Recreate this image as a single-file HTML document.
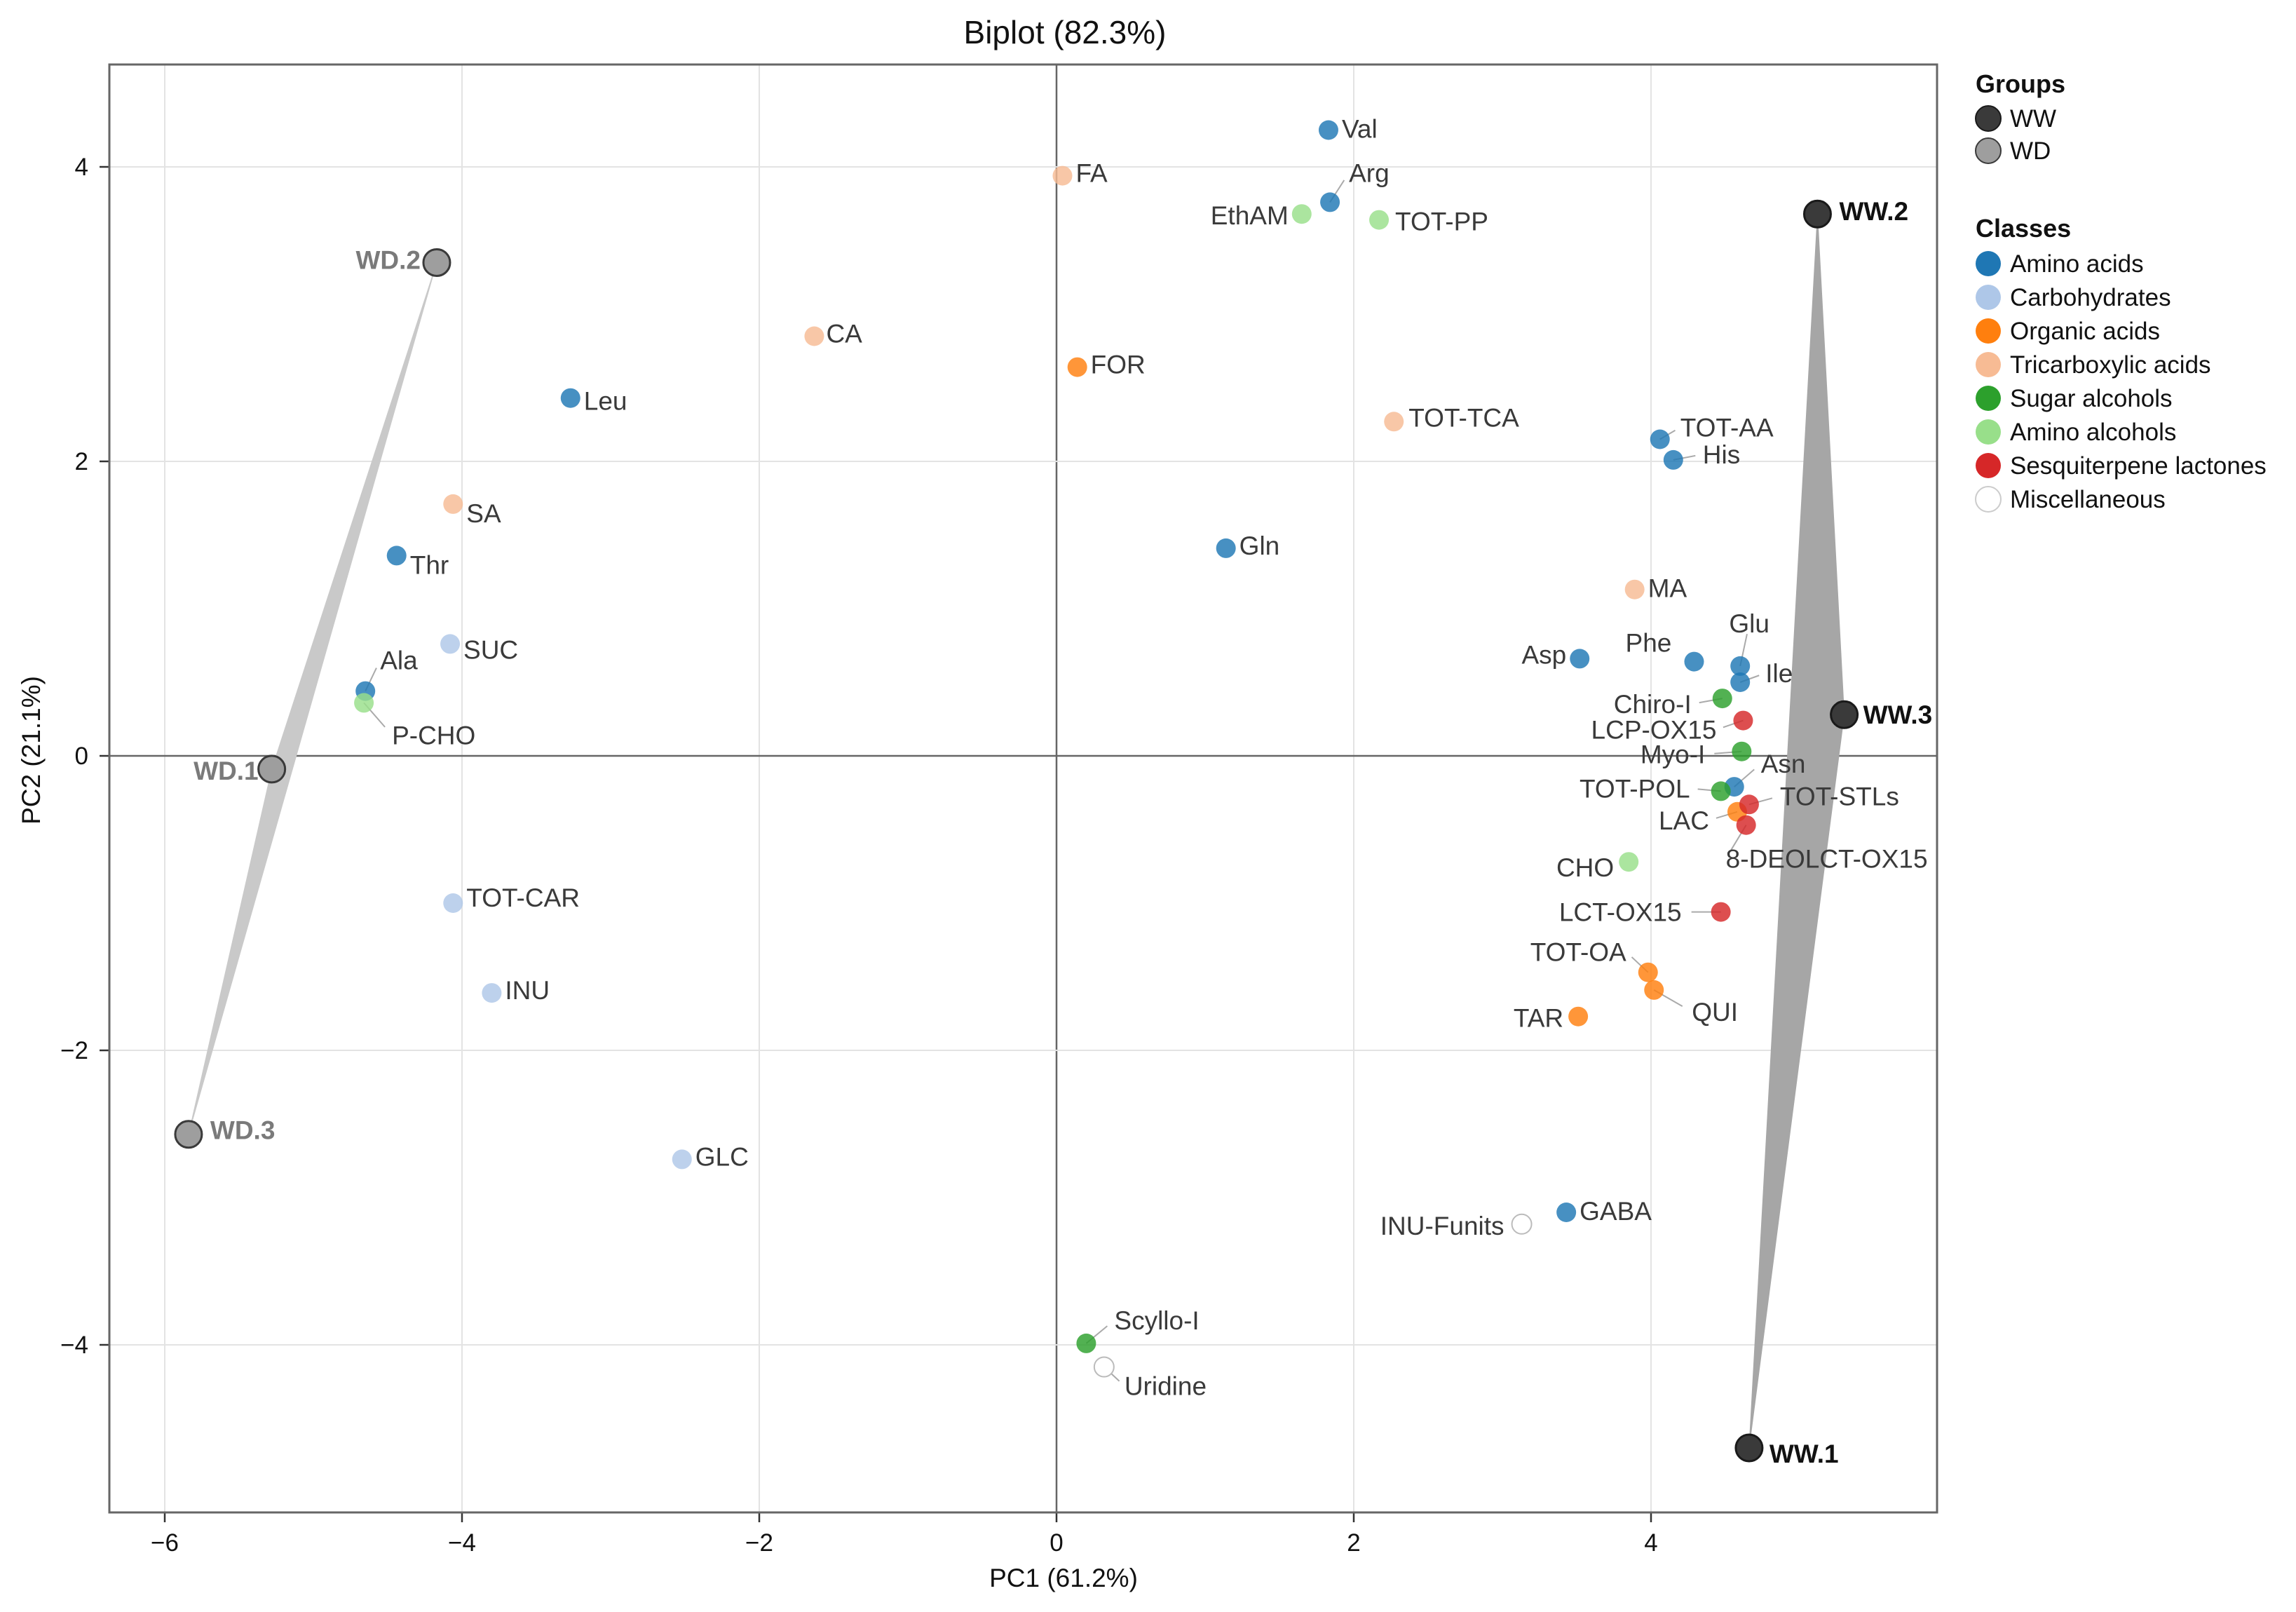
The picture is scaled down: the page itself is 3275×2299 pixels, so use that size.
<!DOCTYPE html>
<html><head><meta charset="utf-8"><style>
html,body{margin:0;padding:0;background:#fff}
svg{display:block;font-family:"Liberation Sans",Arial,sans-serif}
</style></head><body>
<svg id="chart" width="3275" height="2299" viewBox="0 0 3275 2299" xmlns="http://www.w3.org/2000/svg">
<text x="1519" y="62" font-size="46" text-anchor="middle" fill="#111">Biplot (82.3%)</text>
<text x="1517" y="2263" font-size="37" text-anchor="middle" fill="#111">PC1 (61.2%)</text>
<text x="0" y="0" font-size="37" text-anchor="middle" fill="#111" transform="translate(57,1070) rotate(-90)">PC2 (21.1%)</text>
<g id="grid"></g>
<g id="hulls"></g>
<g id="leaders"></g>
<g id="points"></g>
<g id="groups"></g>
<g id="axes"></g>
<g id="legend"></g>
</svg>
<script>
const xTicks = [-6, -4, -2, 0, 2, 4];
const yTicks = [-4, -2, 0, 2, 4];
const classNames = ["Amino acids","Carbohydrates","Organic acids","Tricarboxylic acids","Sugar alcohols","Amino alcohols","Sesquiterpene lactones","Miscellaneous"];
const classColors = ["#1f77b4","#aec7e8","#ff7f0e","#f7bb94","#2ca02c","#98df8a","#d62728","#ffffff"];
const varNames = ["Val","Arg","FA","EthAM","TOT-PP","CA","FOR","Leu","TOT-TCA","TOT-AA","His","SA","Thr","Gln","MA","SUC","Asp","Phe","Glu","Ile","Ala","P-CHO","Chiro-I","LCP-OX15","Myo-I","Asn","TOT-POL","LAC","TOT-STLs","8-DEOLCT-OX15","CHO","LCT-OX15","TOT-OA","QUI","TAR","TOT-CAR","INU","GLC","GABA","INU-Funits","Scyllo-I","Uridine"];
const varPC1 = [1.83,1.84,0.04,1.65,2.17,-1.63,0.14,-3.27,2.27,4.06,4.15,-4.06,-4.44,1.14,3.89,-4.08,3.52,4.29,4.60,4.60,-4.65,-4.66,4.48,4.62,4.61,4.56,4.47,4.58,4.66,4.64,3.85,4.47,3.98,4.02,3.51,-4.06,-3.80,-2.52,3.43,3.13,0.20,0.32];
const varPC2 = [4.25,3.76,3.94,3.68,3.64,2.85,2.64,2.43,2.27,2.15,2.01,1.71,1.36,1.41,1.13,0.76,0.66,0.64,0.61,0.50,0.44,0.36,0.39,0.24,0.03,-0.21,-0.24,-0.38,-0.33,-0.47,-0.72,-1.06,-1.47,-1.59,-1.77,-1.00,-1.61,-2.74,-3.10,-3.18,-3.99,-4.15];
const varClass = [0,0,3,5,5,3,2,0,3,0,0,3,0,0,3,1,0,0,0,0,0,5,4,6,4,0,4,2,6,6,5,6,2,2,2,1,1,1,0,7,4,7];
const groupNames = ["WW.1","WW.2","WW.3","WD.1","WD.2","WD.3"];
const groupPC1 = [4.66,5.12,5.30,-5.28,-4.17,-5.84];
const groupPC2 = [-4.70,3.68,0.28,-0.09,3.35,-2.57];
const groupType = ["WW","WW","WW","WD","WD","WD"];

// label placement (pixel offsets from point; layout only)
const lab = {
"Val":[19,-2,"start",0],"Arg":[27,-42,"start",1],"FA":[19,-4,"start",0],"EthAM":[-19,2,"end",0],"TOT-PP":[23,2,"start",0],
"CA":[17,-4,"start",0],"FOR":[19,-4,"start",0],"Leu":[19,4,"start",0],"TOT-TCA":[21,-6,"start",0],"TOT-AA":[29,-17,"start",1],
"His":[42,-8,"start",1],"SA":[19,13,"start",0],"Thr":[19,13,"start",0],"Gln":[19,-4,"start",0],"MA":[19,-2,"start",0],
"SUC":[19,8,"start",0],"Asp":[-19,-6,"end",0],"Phe":[-65,-27,"middle",0],"Glu":[13,-61,"middle",1],"Ile":[36,-13,"start",1],
"Ala":[21,-44,"start",1],"P-CHO":[40,46,"start",1],"Chiro-I":[-44,8,"end",1],"LCP-OX15":[-38,13,"end",1],"Myo-I":[-52,4,"end",1],
"Asn":[38,-33,"start",1],"TOT-POL":[-44,-4,"end",1],"LAC":[-40,12,"end",1],"TOT-STLs":[44,-12,"start",1],"8-DEOLCT-OX15":[-29,48,"start",1],
"CHO":[-21,8,"end",0],"LCT-OX15":[-56,0,"end",1],"TOT-OA":[-31,-29,"end",1],"QUI":[54,31,"start",1],"TAR":[-21,2,"end",0],
"TOT-CAR":[19,-8,"start",0],"INU":[19,-4,"start",0],"GLC":[19,-4,"start",0],"GABA":[19,-2,"start",0],"INU-Funits":[-25,2,"end",0],
"Scyllo-I":[40,-33,"start",1],"Uridine":[29,27,"start",1]};
const glab = {"WW.1":[29,8,"start"],"WW.2":[31,-4,"start"],"WW.3":[27,0,"start"],"WD.1":[-19,2,"end"],"WD.2":[-23,-4,"end"],"WD.3":[31,-6,"start"]};

const NS = "http://www.w3.org/2000/svg";
const L = 156, R = 2763, T = 92, B = 2157;
const X = v => 1507 + v * 212;
const Y = v => 1078 - v * 210;
function mk(tag, attrs, parent) {
  const e = document.createElementNS(NS, tag);
  for (const k in attrs) e.setAttribute(k, attrs[k]);
  parent.appendChild(e);
  return e;
}
const grid = document.getElementById('grid');
const axes = document.getElementById('axes');
xTicks.forEach(t => {
  const g = mk('line', {x1: X(t), x2: X(t), y1: T, y2: B, stroke: t === 0 ? '#666' : '#e3e3e3', 'stroke-width': t === 0 ? 2.5 : 2}, grid);
  
  
  const tk = mk('line', {x1: X(t), x2: X(t), y1: B, y2: B + 14, stroke: '#333', 'stroke-width': 2.5}, axes);
  
  
  const tx = mk('text', {x: X(t), y: 2212, 'font-size': 35, 'text-anchor': 'middle', fill: '#111'}, axes);
  tx.textContent = t < 0 ? '\u2212' + (-t) : String(t);
  
  
});
yTicks.forEach(t => {
  const g = mk('line', {x1: L, x2: R, y1: Y(t), y2: Y(t), stroke: t === 0 ? '#666' : '#e3e3e3', 'stroke-width': t === 0 ? 2.5 : 2}, grid);
  
  
  const tk = mk('line', {x1: L - 14, x2: L, y1: Y(t), y2: Y(t), stroke: '#333', 'stroke-width': 2.5}, axes);
  
  
  const tx = mk('text', {x: 126, y: Y(t) + 12, 'font-size': 35, 'text-anchor': 'end', fill: '#111'}, axes);
  tx.textContent = t < 0 ? '\u2212' + (-t) : String(t);
  
  
});
const frame = mk('rect', {x: L, y: T, width: R - L, height: B - T, fill: 'none', stroke: '#666', 'stroke-width': 3}, axes);



// hulls
const hulls = document.getElementById('hulls');
[['WW', '#a6a6a6'], ['WD', '#c9c9c9']].forEach(([gname, col]) => {
  const pts = [];
  groupNames.forEach((n, i) => { if (groupType[i] === gname) pts.push(X(groupPC1[i]) + ',' + Y(groupPC2[i])); });
  const p = mk('polygon', {points: pts.join(' '), fill: col, stroke: col, 'stroke-width': 1}, hulls);
  
  
});

// variables
const leaders = document.getElementById('leaders');
const pts = document.getElementById('points');
varNames.forEach((n, i) => {
  const cx = X(varPC1[i]), cy = Y(varPC2[i]);
  const o = lab[n] || [19, 0, 'start', 0];
  if (o[3]) {
    const ln = mk('line', {x1: cx, y1: cy, x2: cx + o[0] * 0.75, y2: cy + o[1] * 0.75, stroke: '#aaa', 'stroke-width': 2}, leaders);
    
    
  }
  const c = classColors[varClass[i]];
  const misc = varClass[i] === 7;
  const dot = mk('circle', {cx: cx, cy: cy, r: 14, fill: c, 'fill-opacity': misc ? 1 : 0.82, stroke: misc ? '#bbb' : 'none', 'stroke-width': 2}, pts);
  
  
  const t = mk('text', {x: cx + o[0], y: cy + o[1] + 13, 'font-size': 37, 'text-anchor': o[2], fill: '#3a3a3a'}, pts);
  t.textContent = n;
  
  
});

// groups
const gg = document.getElementById('groups');
groupNames.forEach((n, i) => {
  const cx = X(groupPC1[i]), cy = Y(groupPC2[i]);
  const ww = groupType[i] === 'WW';
  const c = mk('circle', {cx: cx, cy: cy, r: 19, fill: ww ? '#3a3a3a' : '#9e9e9e', stroke: ww ? '#1a1a1a' : '#3a3a3a', 'stroke-width': 3}, gg);
  
  
  const o = glab[n];
  const t = mk('text', {x: cx + o[0], y: cy + o[1] + 13, 'font-size': 37, 'font-weight': 'bold', 'text-anchor': o[2], fill: ww ? '#111' : '#7a7a7a'}, gg);
  t.textContent = n;
  
  
});

// legend
const lg = document.getElementById('legend');
function ltitle(txt, y) {
  const t = mk('text', {x: 2818, y: y, 'font-size': 36, 'font-weight': 'bold', fill: '#111'}, lg);
  t.textContent = txt;
  
  
}
function lentry(txt, y, fill, stroke) {
  const c = mk('circle', {cx: 2836, cy: y, r: 18, fill: fill, stroke: stroke, 'stroke-width': 2}, lg);
  
  
  const t = mk('text', {x: 2867, y: y + 12, 'font-size': 35, fill: '#111'}, lg);
  t.textContent = txt;
  
  
}
ltitle('Groups', 132);
lentry('WW', 169, '#3a3a3a', '#1a1a1a');
lentry('WD', 215, '#9e9e9e', '#3a3a3a');
ltitle('Classes', 338);
classNames.forEach((n, i) => {
  lentry(n, 376 + i * 48, classColors[i], i === 7 ? '#ccc' : 'none');
});
</script>
</body></html>
